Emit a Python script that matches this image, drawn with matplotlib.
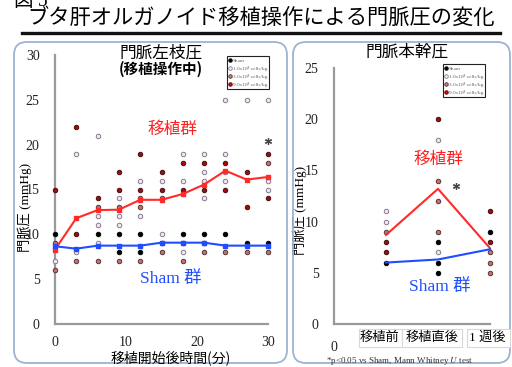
import matplotlib
matplotlib.use("Agg")
import matplotlib.pyplot as plt
from matplotlib.patches import FancyBboxPatch, Rectangle
from matplotlib.lines import Line2D

plt.rcParams['font.family'] = ['Noto Sans CJK JP', 'DejaVu Sans']
plt.rcParams['mathtext.fontset'] = 'stix'

SERIF = ['Liberation Serif', 'Noto Sans CJK JP']

# 門脈左枝圧 (移植操作中): time in minutes
left_t = [0, 3, 6, 9, 12, 15, 18, 21, 24, 27, 30]
left_graft_mean = [8.3, 11.8, 12.7, 12.75, 13.85, 13.85, 14.5, 15.55, 17.1, 16.1, 16.4]
left_sham_mean = [8.67, 8.4, 8.74, 8.74, 8.74, 9.07, 9.07, 9.07, 8.74, 8.74, 8.74]

# individual animals per group at each time point
left_sham = {0: [10], 3: [], 6: [10], 9: [10, 8], 12: [10, 8], 15: [9], 18: [10, 9],
             21: [10, 9], 24: [10], 27: [9], 30: [9]}
left_d10 = {0: [7], 3: [19, 8], 6: [21, 12, 11, 9], 9: [14, 12, 11], 12: [16, 12],
            15: [16, 10], 18: [19, 16, 8], 21: [19, 17, 16, 14], 24: [25, 19, 17, 16],
            27: [25], 30: [25, 16, 15]}
left_d30 = {0: [9, 6], 3: [7], 6: [13, 7], 9: [13, 7], 12: [14, 13, 7], 15: [14, 8],
            18: [7], 21: [8], 24: [8], 27: [8], 30: [18, 8]}
left_d90 = {0: [15], 3: [22, 10], 6: [14], 9: [17, 15], 12: [19, 15], 15: [17, 15],
            18: [18, 15], 21: [18, 15], 24: [18, 15], 27: [17, 13], 30: [19, 14]}
left_sig = [(30, 20.4)]

# 門脈本幹圧: 移植前 / 移植直後 / 1週後
right_labels = ['移植前', '移植直後', '1 週後']
right_x = [1, 2, 3]
right_graft_mean = [8.7, 13.2, 7.4]
right_sham_mean = [6.0, 6.3, 7.3]
right_sham = {1: [6], 2: [8, 6, 5], 3: [9]}
right_d10 = {1: [11, 10], 2: [18, 7], 3: []}
right_d30 = {1: [9], 2: [14, 12, 9], 3: [7, 6, 5]}
right_d90 = {1: [8, 7], 2: [20], 3: [11, 8]}
right_sig = [(2.35, 13.5)]

groups = [
    ('Sham', dict(mfc='#000000', mec='#000000')),
    ('1.0x10⁸ cells/kg', dict(mfc='#eee6ee', mec='#7d6a80')),
    ('3.0x10⁸ cells/kg', dict(mfc='#c07070', mec='#4a2a2a')),
    ('9.0x10⁸ cells/kg', dict(mfc='#a00c0c', mec='#3a0808')),
]

W, H = 512, 367
fig = plt.figure(figsize=(W / 100, H / 100), dpi=100)


def fx(x):
    return x / W


def fy(y):
    return 1 - y / H


# panel frames
for x0, x1 in [(14, 287), (293, 510)]:
    fig.patches.append(FancyBboxPatch(((x0) / 100, (H - 363) / 100), (x1 - x0) / 100, (363 - 42) / 100,
                                      boxstyle='round,pad=0,rounding_size=0.13',
                                      transform=fig.dpi_scale_trans, fc='none',
                                      ec='#9db3cf', lw=1.3))

fig.text(fx(13), fy(6), '図', fontsize=14, va='baseline', ha='left')
fig.text(fx(38), fy(6), '5', fontsize=14, va='baseline', ha='left', family=SERIF)
fig.text(fx(261), fy(18), 'ブタ肝オルガノイド移植操作による門脈圧の変化',
         fontsize=15.3, ha='center', va='center')
fig.add_artist(Line2D([fx(22), fx(500)], [fy(33), fy(33)], color='#111', lw=2.4,
                      transform=fig.transFigure))


def draw_points(ax, data_sets, clip=False):
    for (name, sty), data in zip(groups, data_sets):
        for x, vals in data.items():
            if vals:
                ax.plot([x] * len(vals), vals, 'o', ms=3.3, mew=0.6, ls='none',
                        clip_on=clip, zorder=3, **sty)


def style_axes(ax):
    for s in ['top', 'right']:
        ax.spines[s].set_visible(False)
    for s in ['left', 'bottom']:
        ax.spines[s].set_color('#9a9a9a')
        ax.spines[s].set_linewidth(1.6)
    ax.tick_params(length=0, labelsize=10, pad=11)
    for lab in ax.get_xticklabels() + ax.get_yticklabels():
        lab.set_family(SERIF)
        lab.set_color('#222')


def add_legend(ax, x, y):
    handles = [Line2D([], [], marker='o', ls='none', ms=2.6, mew=0.5, **sty) for _, sty in groups]
    handles[3] = Line2D([], [], marker='o', ls='none', ms=2.6, mew=0.5, mfc='#e00000', mec='#500000')
    leg = ax.legend(handles, [g[0] for g in groups], loc='upper left',
                    bbox_to_anchor=(fx(x), fy(y)), bbox_transform=fig.transFigure,
                    prop={'family': ['Liberation Serif', 'DejaVu Serif'], 'size': 3.8},
                    labelcolor='#666', handlelength=0.4, handletextpad=0.3,
                    borderpad=0.35, labelspacing=0.6, borderaxespad=0,
                    fancybox=False, framealpha=1, edgecolor='#222')
    leg.get_frame().set_linewidth(0.8)


# left panel
axL = fig.add_axes([fx(55), fy(324), fx(268) - fx(55), fy(55) - fy(324)])
axL.set_xlim(0, 30)
axL.set_ylim(0, 30)
axL.set_xticks([0, 10, 20, 30])
axL.set_yticks([0, 5, 10, 15, 20, 25, 30])
style_axes(axL)
axL.tick_params(axis='x', pad=9)
draw_points(axL, [left_sham, left_d10, left_d30, left_d90])
axL.plot(left_t, left_graft_mean, '-s', color='#ff2a2a', lw=1.5, ms=2.4, clip_on=False, zorder=4)
axL.plot(left_t, left_sham_mean, '-s', color='#1f4dff', lw=1.5, ms=2.4, clip_on=False, zorder=4)
for x, y in left_sig:
    axL.plot(x, y, marker=(6, 2, 0), ms=5, color='#444', mew=0.9, clip_on=False, zorder=5)
add_legend(axL, 227, 56)
axL.set_ylabel('門脈圧 (mmHg)', fontsize=9.5, family=SERIF)
axL.yaxis.set_label_coords((fx(32) - fx(55)) / (fx(268) - fx(55)), 0.435)

fig.text(fx(161), fy(53), '門脈左枝圧', fontsize=12, ha='center', va='center')
fig.text(fx(161), fy(69), '(移植操作中)', fontsize=10.5, ha='center', va='center', weight='bold')
fig.text(fx(172), fy(129), '移植群', fontsize=12, ha='center', va='center', color='#ff2020')
fig.text(fx(171), fy(279), 'Sham 群', fontsize=12.5, ha='center', va='center', color='#1f4dff',
         family=SERIF)
fig.text(fx(171), fy(358), '移植開始後時間(分)', fontsize=10, ha='center', va='center')

# right panel
axR = fig.add_axes([fx(334), fy(324), fx(490) - fx(334), fy(68) - fy(324)])
axR.set_xlim(0, 3)
axR.set_ylim(0, 25)
axR.set_xticks([0])
axR.set_yticks([0, 5, 10, 15, 20, 25])
style_axes(axR)
axR.tick_params(axis='x', pad=12)
draw_points(axR, [right_sham, right_d10, right_d30, right_d90])
axR.plot(right_x, right_graft_mean, '-', color='#ff2a2a', lw=1.5, clip_on=False, zorder=4)
axR.plot(right_x, right_sham_mean, '-', color='#1f4dff', lw=1.5, clip_on=False, zorder=4)
for x, y in right_sig:
    axR.plot(x, y, marker=(6, 2, 0), ms=5, color='#444', mew=0.9, clip_on=False, zorder=5)
add_legend(axR, 443, 64)
axR.set_ylabel('門脈圧 (mmHg)', fontsize=9.5, family=SERIF)
axR.yaxis.set_label_coords((fx(307) - fx(334)) / (fx(490) - fx(334)), 0.445)

# category labels in boxes under the axis
for (x0, x1), cx, lab in zip([(359, 402), (402, 462), (467, 510)], [380, 432, 487], right_labels):
    fig.patches.append(Rectangle((fx(x0), fy(347)), fx(x1) - fx(x0), fy(329) - fy(347),
                                 transform=fig.transFigure, fc='white', ec='#d8d8d8', lw=0.8))
    fig.text(fx(cx), fy(338), lab, fontsize=9.5, ha='center', va='center', family=SERIF)

fig.text(fx(407), fy(52), '門脈本幹圧', fontsize=12, ha='center', va='center')
fig.text(fx(438), fy(159), '移植群', fontsize=12, ha='center', va='center', color='#ff2020')
fig.text(fx(440), fy(287), 'Sham 群', fontsize=12.5, ha='center', va='center', color='#1f4dff',
         family=SERIF)
fig.text(fx(400), fy(361), r'*p<0.05 vs Sham, Mann Whitney $\mathit{U}$ test', fontsize=6.5,
         ha='center', va='center', family=SERIF, color='#333')

fig.savefig('out.png', dpi=100)
